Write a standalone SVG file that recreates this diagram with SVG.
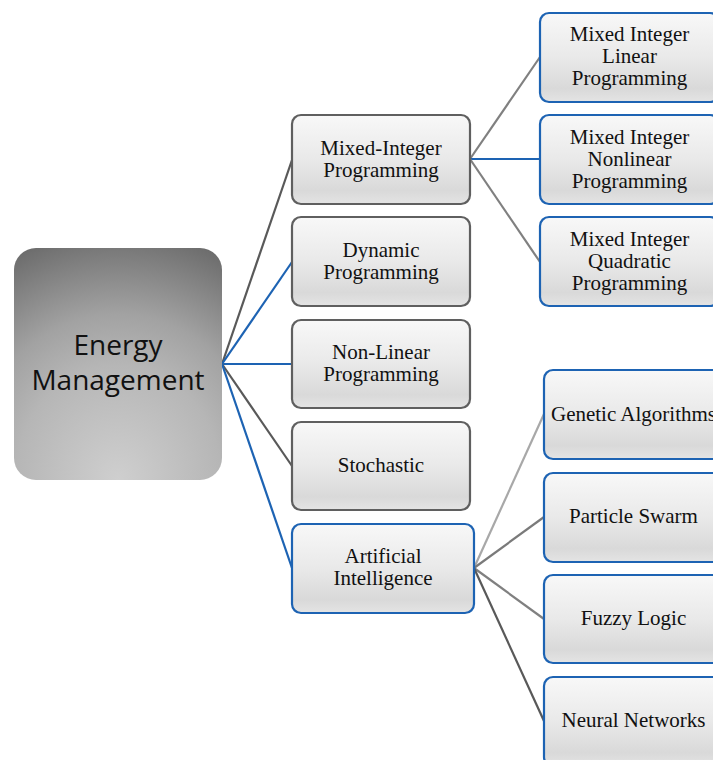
<svg xmlns="http://www.w3.org/2000/svg" width="713" height="760" viewBox="0 0 713 760">
<defs>
<radialGradient id="rootg" cx="50%" cy="100%" r="110%" fx="50%" fy="100%">
<stop offset="0" stop-color="#cfcfcf"/>
<stop offset="0.45" stop-color="#b6b6b6"/>
<stop offset="0.65" stop-color="#a2a2a2"/>
<stop offset="0.9" stop-color="#7a7a7a"/>
<stop offset="1" stop-color="#6a6a6a"/>
</radialGradient>
<linearGradient id="boxg" x1="0" y1="0" x2="0" y2="1">
<stop offset="0" stop-color="#f8f8f8"/>
<stop offset="0.5" stop-color="#e9e9e9"/>
<stop offset="0.85" stop-color="#d9d9d9"/>
<stop offset="1" stop-color="#e4e4e4"/>
</linearGradient>
</defs>
<style>
.box{fill:url(#boxg);stroke-width:2.2}
.gray{stroke:#5f5f5f}
.blue{stroke:#1d63b3}
.t{font-family:"Liberation Serif","Times New Roman",serif;font-size:21px;fill:#111;text-anchor:middle}
.rt{font-family:"Open Sans","Noto Sans",sans-serif;font-size:28px;fill:#111;text-anchor:middle}
.c{fill:none;stroke-width:2.2}
</style>
<rect width="713" height="760" fill="#ffffff"/>
<g id="connectors">
<line class="c" x1="222" y1="364" x2="292" y2="160" stroke="#595959"/>
<line class="c" x1="222" y1="364" x2="292" y2="262" stroke="#1d63b3"/>
<line class="c" x1="222" y1="364" x2="292" y2="364" stroke="#1d63b3"/>
<line class="c" x1="222" y1="364" x2="292" y2="466" stroke="#595959"/>
<line class="c" x1="222" y1="364" x2="292" y2="568" stroke="#1d63b3"/>
<line class="c" x1="470" y1="159" x2="540" y2="57" stroke="#808080"/>
<line class="c" x1="470" y1="159" x2="540" y2="159" stroke="#1d63b3"/>
<line class="c" x1="470" y1="159" x2="540" y2="262" stroke="#808080"/>
<line class="c" x1="474" y1="568" x2="544" y2="414" stroke="#a8a8a8"/>
<line class="c" x1="474" y1="568" x2="544" y2="517" stroke="#7a7a7a"/>
<line class="c" x1="474" y1="568" x2="544" y2="619" stroke="#808080"/>
<line class="c" x1="474" y1="568" x2="544" y2="721" stroke="#595959"/>
</g>
<g id="root">
<rect x="14" y="248" width="208" height="232" rx="22" fill="url(#rootg)"/>
<text class="rt" x="118" y="355">Energy</text>
<text class="rt" x="118" y="390">Management</text>
</g>
<g id="mip">
<rect class="box gray" x="292" y="115" width="178" height="89" rx="9"/>
<text class="t" x="381" y="155">Mixed-Integer</text>
<text class="t" x="381" y="177">Programming</text>
</g>
<g id="dp">
<rect class="box gray" x="292" y="217" width="178" height="89" rx="9"/>
<text class="t" x="381" y="257">Dynamic</text>
<text class="t" x="381" y="279">Programming</text>
</g>
<g id="nlp">
<rect class="box gray" x="292" y="320" width="178" height="88" rx="9"/>
<text class="t" x="381" y="359">Non-Linear</text>
<text class="t" x="381" y="381">Programming</text>
</g>
<g id="stoch">
<rect class="box gray" x="292" y="422" width="178" height="88" rx="9"/>
<text class="t" x="381" y="472">Stochastic</text>
</g>
<g id="ai">
<rect class="box blue" x="292" y="524" width="182" height="89" rx="9"/>
<text class="t" x="383" y="563">Artificial</text>
<text class="t" x="383" y="585">Intelligence</text>
</g>
<g id="milp">
<rect class="box blue" x="540" y="13" width="179" height="89" rx="9"/>
<text class="t" x="629.5" y="41">Mixed Integer</text>
<text class="t" x="629.5" y="63">Linear</text>
<text class="t" x="629.5" y="85">Programming</text>
</g>
<g id="minlp">
<rect class="box blue" x="540" y="115" width="179" height="89" rx="9"/>
<text class="t" x="629.5" y="144">Mixed Integer</text>
<text class="t" x="629.5" y="166">Nonlinear</text>
<text class="t" x="629.5" y="188">Programming</text>
</g>
<g id="miqp">
<rect class="box blue" x="540" y="217" width="179" height="89" rx="9"/>
<text class="t" x="629.5" y="246">Mixed Integer</text>
<text class="t" x="629.5" y="268">Quadratic</text>
<text class="t" x="629.5" y="290">Programming</text>
</g>
<g id="ga">
<rect class="box blue" x="544" y="370" width="179" height="89" rx="9"/>
<text class="t" x="633.5" y="421">Genetic Algorithms</text>
</g>
<g id="ps">
<rect class="box blue" x="544" y="473" width="179" height="89" rx="9"/>
<text class="t" x="633.5" y="523">Particle Swarm</text>
</g>
<g id="fl">
<rect class="box blue" x="544" y="575" width="179" height="88" rx="9"/>
<text class="t" x="633.5" y="625">Fuzzy Logic</text>
</g>
<g id="nn">
<rect class="box blue" x="544" y="677" width="179" height="89" rx="9"/>
<text class="t" x="633.5" y="727">Neural Networks</text>
</g>
</svg>
